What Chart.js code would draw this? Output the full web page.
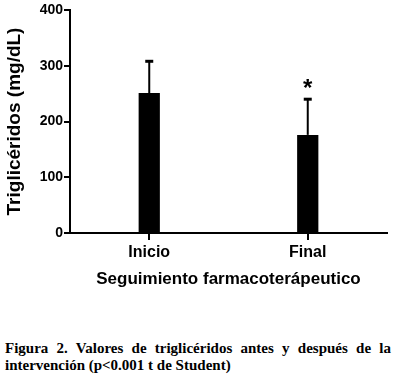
<!DOCTYPE html>
<html>
<head>
<meta charset="utf-8">
<script src="https://cdn.jsdelivr.net/npm/chart.js@4"></script>
<style>
    body { margin: 0; background: #fff; }
    #wrap { position: relative; width: 396px; height: 380px; }
    #chartBox { position: absolute; left: 0; top: 0; width: 396px; height: 296px; }
    #caption {
        position: absolute; left: 5px; top: 340px; width: 386px;
        font-family: "Liberation Serif", "Times New Roman", serif;
        font-weight: bold; font-size: 15px; line-height: 17px;
        text-align: justify; color: #000;
    }
</style>
</head>
<body>
<div id="wrap">
    <div id="chartBox"><canvas id="trigChart"></canvas></div>
    <div id="caption">Figura 2. Valores de triglicéridos antes y después de la intervención (p&lt;0.001 t de Student)</div>
</div>
<script>
// Datos del gráfico
const categories = ['Inicio', 'Final'];
const means = [251, 176];
const sdUpper = [57, 64];
const marks = ['', '*'];
const yTicks = [0, 100, 200, 300, 400];

// Barras de error (solo hacia arriba) y asterisco de significancia
const errorBarPlugin = {
    id: 'errorBars',
    afterDatasetsDraw(chart) {
        const ctx = chart.ctx;
        const meta = chart.getDatasetMeta(0);
        const yScale = chart.scales.y;
        ctx.save();
        ctx.strokeStyle = '#000';
        meta.data.forEach((bar, i) => {
            const x = bar.x;
            const yTop = yScale.getPixelForValue(means[i] + sdUpper[i]);
            ctx.lineWidth = 2;
            ctx.beginPath();
            ctx.moveTo(x, bar.y);
            ctx.lineTo(x, yTop);
            ctx.stroke();
            ctx.lineWidth = 3;
            ctx.beginPath();
            ctx.moveTo(x - 4, yTop);
            ctx.lineTo(x + 4, yTop);
            ctx.stroke();
            if (marks[i]) {
                ctx.fillStyle = '#000';
                ctx.font = 'bold 24px "Liberation Sans", Arial, sans-serif';
                ctx.textAlign = 'center';
                ctx.textBaseline = 'middle';
                ctx.fillText(marks[i], x, yTop - 10);
            }
        });
        ctx.restore();
    }
};

const sansFont = '"Liberation Sans", Arial, sans-serif';

new Chart(document.getElementById('trigChart'), {
    type: 'bar',
    data: {
        labels: categories,
        datasets: [{
            data: means,
            backgroundColor: '#000',
            borderWidth: 0,
            barPercentage: 0.134,
            categoryPercentage: 1
        }]
    },
    options: {
        responsive: true,
        maintainAspectRatio: false,
        animation: false,
        layout: { padding: { top: 10, right: 9, left: 0, bottom: 0 } },
        plugins: {
            legend: { display: false },
            tooltip: { enabled: false }
        },
        scales: {
            x: {
                grid: {
                    offset: false,
                    drawOnChartArea: false,
                    drawTicks: true,
                    tickLength: 7,
                    color: '#000',
                    lineWidth: 2
                },
                border: { color: '#000', width: 2 },
                ticks: {
                    color: '#000',
                    padding: 3,
                    font: { family: sansFont, size: 16, weight: 'bold' }
                },
                title: {
                    display: true,
                    text: 'Seguimiento farmacoterápeutico',
                    color: '#000',
                    padding: { top: 2, bottom: 6 },
                    font: { family: sansFont, size: 17, weight: 'bold' }
                },
                afterFit(scale) { scale.height = 63; }
            },
            y: {
                min: 0,
                max: 400,
                afterBuildTicks(scale) {
                    scale.ticks = yTicks.map(v => ({ value: v }));
                },
                grid: {
                    drawOnChartArea: false,
                    drawTicks: true,
                    tickLength: 6,
                    color: '#000',
                    lineWidth: 2
                },
                border: { color: '#000', width: 2 },
                ticks: {
                    color: '#000',
                    padding: 1,
                    font: { family: sansFont, size: 14, weight: 'bold' }
                },
                title: {
                    display: true,
                    text: 'Triglicéridos (mg/dL)',
                    color: '#000',
                    padding: { top: 3, bottom: 0 },
                    font: { family: sansFont, size: 19, weight: 'bold' }
                },
                afterFit(scale) { scale.width = 70; }
            }
        }
    },
    plugins: [errorBarPlugin]
});
</script>
</body>
</html>
